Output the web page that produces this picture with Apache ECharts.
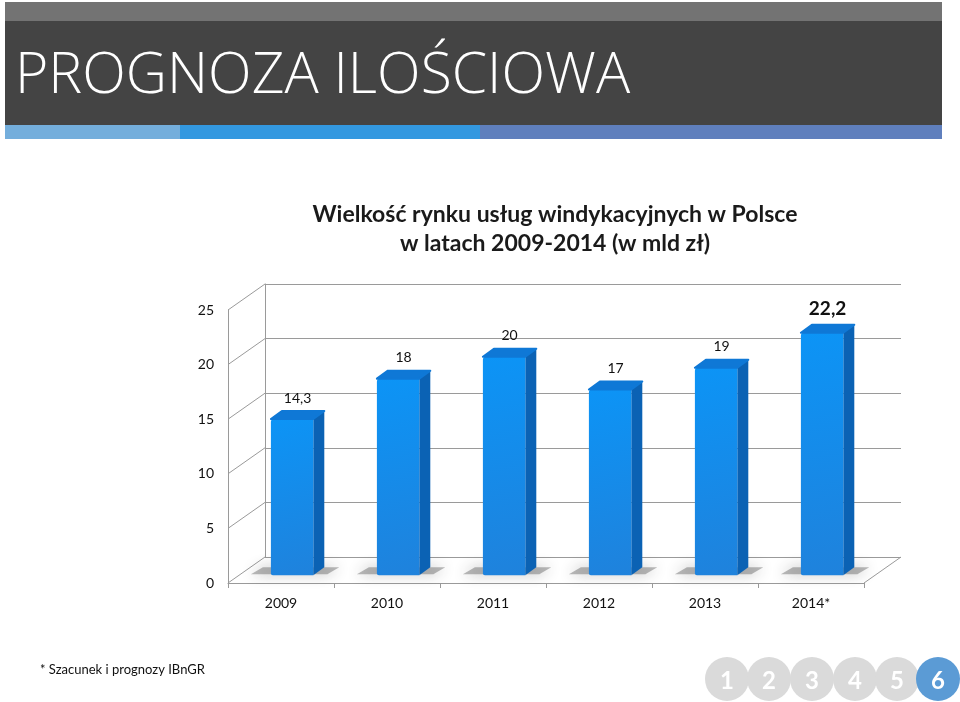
<!DOCTYPE html>
<html>
<head>
<meta charset="utf-8">
<script src="https://cdn.jsdelivr.net/npm/echarts@6/dist/echarts.min.js"></script>
<style>html,body{margin:0;padding:0;background:#fff}#c{width:960px;height:702px}</style>
</head>
<body>
<div id="c"></div>
<script>
// ---- data ----
var categories = ['2009', '2010', '2011', '2012', '2013', '2014*'];
var values = [14.3, 18, 20, 17, 19, 22.2];
var yTicks = [0, 5, 10, 15, 20, 25];
var pageNumbers = ['1', '2', '3', '4', '5', '6'];
var titleLines = ['Wielkość rynku usług windykacyjnych w Polsce', 'w latach 2009-2014 (w mld zł)'];
var headerText = 'PROGNOZA ILOŚCIOWA';
var footnote = '* Szacunek i prognozy IBnGR';

// ---- style constants ----
var FONT = 'Lato, "Open Sans", "Noto Sans", sans-serif';
var DX = 37, DY = -26;          // depth of the 3D box
var BAR_DEPTH = 0.3;            // position of bar front within depth
var BAR_DX = 11, BAR_DY = -8;   // bar thickness in depth

function fmt(v) { return String(v).replace('.', ','); }

var chart = echarts.init(document.getElementById('c'), null, { renderer: 'canvas' });

var graphics = [
  { type: 'rect', shape: { x: 5, y: 2, width: 937, height: 19 }, style: { fill: '#737373' } },
  { type: 'rect', shape: { x: 5, y: 21, width: 937, height: 104 }, style: { fill: '#444444' } },
  { type: 'rect', shape: { x: 5, y: 125, width: 175, height: 14 }, style: { fill: '#74aedc' } },
  { type: 'rect', shape: { x: 180, y: 125, width: 300, height: 14 }, style: { fill: '#3398e0' } },
  { type: 'rect', shape: { x: 480, y: 125, width: 462, height: 14 }, style: { fill: '#5f7fbd' } },
  { type: 'text', x: 15, y: 77, style: { text: headerText, fill: '#ffffff', font: '300 57px "Open Sans", Lato, sans-serif', textVerticalAlign: 'middle' } },
  { type: 'text', x: 555, y: 215, style: { text: titleLines[0], fill: '#1a1a1a', font: 'bold 23px ' + FONT, textAlign: 'center', textVerticalAlign: 'middle' } },
  { type: 'text', x: 555, y: 244, style: { text: titleLines[1], fill: '#1a1a1a', font: 'bold 23px ' + FONT, textAlign: 'center', textVerticalAlign: 'middle' } },
  { type: 'text', x: 40, y: 670, style: { text: footnote, fill: '#111', font: '13px ' + FONT, textVerticalAlign: 'middle' } }
];
var navX = [727, 769, 812, 855, 897, 938];
pageNumbers.forEach(function (p, i) {
  var active = i === pageNumbers.length - 1;
  graphics.push({ type: 'circle', shape: { cx: navX[i], cy: 679, r: 22 }, style: { fill: active ? '#5b9bd5' : '#dadada' } });
  graphics.push({ type: 'text', x: navX[i], y: 681, style: { text: p, fill: '#ffffff', font: 'bold 24px ' + FONT, textAlign: 'center', textVerticalAlign: 'middle' } });
});

var option = {
  backgroundColor: '#ffffff',
  animation: false,
  graphic: graphics,
  grid: [
    { left: 228, right: 96, top: 310, bottom: 119 },
    { left: 228 + DX, right: 96 - DX, top: 310 + DY, bottom: 119 - DY }
  ],
  xAxis: [
    {
      gridIndex: 0, type: 'category', data: categories,
      axisLine: { lineStyle: { color: '#9a9a9a', width: 1 } },
      axisTick: { show: true, length: 5, lineStyle: { color: '#9a9a9a' } },
      axisLabel: { color: '#111', fontSize: 14, fontFamily: FONT, margin: 13 }
    },
    { gridIndex: 1, type: 'category', data: categories, show: false }
  ],
  yAxis: [
    {
      gridIndex: 0, type: 'value', min: 0, max: 25, interval: 5,
      axisLine: { show: true, lineStyle: { color: '#9a9a9a' } },
      axisTick: { show: false },
      splitLine: { show: false },
      axisLabel: { color: '#111', fontSize: 14, fontFamily: FONT, margin: 14 }
    },
    {
      gridIndex: 1, type: 'value', min: 0, max: 25, interval: 5,
      axisLine: { show: true, lineStyle: { color: '#9a9a9a' } },
      axisTick: { show: false },
      axisLabel: { show: false },
      splitLine: { show: true, lineStyle: { color: '#9a9a9a', width: 1 } }
    }
  ],
  series: [
    {
      // side wall diagonals and floor right edge
      type: 'custom', xAxisIndex: 0, yAxisIndex: 0, silent: true, z: 1,
      data: yTicks.map(function (t) { return [0, t]; }),
      renderItem: function (params, api) {
        var cs = params.coordSys;
        var y = api.coord([0, api.value(1)])[1];
        var children = [{
          type: 'line', shape: { x1: cs.x, y1: y, x2: cs.x + DX, y2: y + DY },
          style: { stroke: '#9a9a9a', lineWidth: 1 }
        }];
        if (api.value(1) === 0) {
          children.push({
            type: 'line', shape: { x1: cs.x + cs.width, y1: y, x2: cs.x + cs.width + DX, y2: y + DY },
            style: { stroke: '#9a9a9a', lineWidth: 1 }
          });
        }
        return { type: 'group', children: children };
      }
    },
    {
      type: 'custom', xAxisIndex: 0, yAxisIndex: 0, z: 5,
      data: values.map(function (v, i) { return [i, v]; }),
      renderItem: function (params, api) {
        var i = api.value(0), v = api.value(1);
        var top = api.coord([i, v]);
        var base = api.coord([i, 0]);
        var band = api.size([1, 0])[0];
        var w = band * 0.40;
        var ox = DX * BAR_DEPTH, oy = DY * BAR_DEPTH;
        var x0 = top[0] - w / 2 + ox, x1 = x0 + w;
        var yt = top[1] + oy, yb = base[1] + oy;
        var last = params.dataIndex === values.length - 1;
        return {
          type: 'group',
          children: [
            { // shadow
              type: 'polygon', z2: 0,
              shape: { points: [[x0 - 20, yb - 1], [x0 - 8, yb - 8], [x1 + 26, yb - 8], [x1 + 14, yb - 1]] },
              style: { fill: 'rgba(60,60,60,0.35)', shadowBlur: 14, shadowColor: 'rgba(40,40,40,0.9)' }
            },
            { // front face
              type: 'rect', z2: 2,
              shape: { x: x0, y: yt, width: w, height: yb - yt, r: [3, 0, 0, 2] },
              style: {
                fill: new echarts.graphic.LinearGradient(0, 0, 1, 1, [
                  { offset: 0, color: '#0c94f6' }, { offset: 1, color: '#1f82dc' }
                ])
              }
            },
            { // side face
              type: 'polygon', z2: 1,
              shape: { points: [[x1, yt], [x1 + BAR_DX, yt + BAR_DY], [x1 + BAR_DX, yb + BAR_DY], [x1, yb]] },
              style: { fill: '#0b62b4' }
            },
            { // top face
              type: 'polygon', z2: 3,
              shape: { points: [[x0, yt], [x0 + BAR_DX, yt + BAR_DY], [x1 + BAR_DX, yt + BAR_DY], [x1, yt]] },
              style: { fill: '#0f78d6', stroke: '#0f78d6', lineJoin: 'round', lineWidth: 2 }
            },
            { // label
              type: 'text', z2: 4,
              x: (x0 + x1 + BAR_DX) / 2, y: yt + BAR_DY - 6,
              style: {
                text: fmt(v), fill: '#111',
                font: (last ? 'bold 19px ' : '14px ') + FONT,
                textAlign: 'center', textVerticalAlign: 'bottom'
              }
            }
          ]
        };
      }
    }
  ]
};
chart.setOption(option);
</script>
</body>
</html>
